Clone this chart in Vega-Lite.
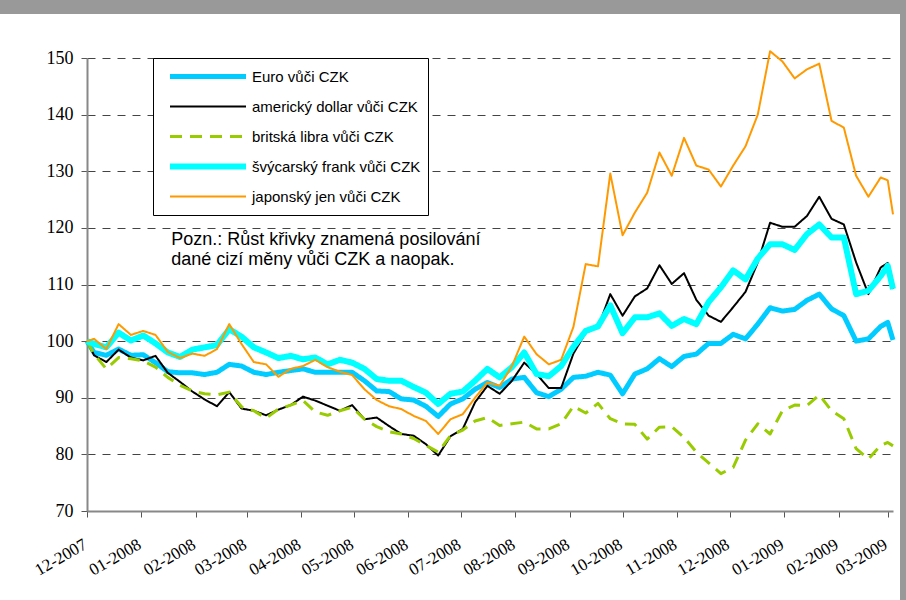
{
  "$schema": "https://vega.github.io/schema/vega-lite/v6.json",
  "width": 900,
  "height": 586,
  "autosize": {"type": "none"},
  "padding": {"left": 0, "top": 14, "right": 6, "bottom": 0},
  "background": "#999999",
  "config": {
    "view": {"fill": "white", "stroke": null},
    "font": "Liberation Sans"
  },
  "data": {
    "values": [
      {"date": "2007-12-01", "eur": 100, "usd": 100, "gbp": 100, "chf": 100, "jpy": 100},
      {"date": "2007-12-05", "eur": 98.0, "usd": 97.5, "gbp": 97.7, "chf": 99.5, "jpy": 100.4},
      {"date": "2007-12-12", "eur": 97.5, "usd": 96.3, "gbp": 95.1, "chf": 98.9, "jpy": 98.6},
      {"date": "2007-12-19", "eur": 98.6, "usd": 98.5, "gbp": 97.1, "chf": 101.5, "jpy": 103.0},
      {"date": "2007-12-26", "eur": 97.5, "usd": 97.1, "gbp": 96.9, "chf": 100.1, "jpy": 101.1},
      {"date": "2008-01-02", "eur": 97.6, "usd": 96.6, "gbp": 96.5, "chf": 101.0, "jpy": 101.8},
      {"date": "2008-01-09", "eur": 96.2, "usd": 97.4, "gbp": 95.4, "chf": 99.6, "jpy": 101.1},
      {"date": "2008-01-16", "eur": 94.6, "usd": 94.4, "gbp": 93.6, "chf": 98.0, "jpy": 98.1},
      {"date": "2008-01-23", "eur": 94.4, "usd": 92.8, "gbp": 92.2, "chf": 97.2, "jpy": 97.0},
      {"date": "2008-01-30", "eur": 94.4, "usd": 91.1, "gbp": 91.2, "chf": 98.5, "jpy": 97.8},
      {"date": "2008-02-06", "eur": 94.1, "usd": 89.7, "gbp": 90.7, "chf": 98.9, "jpy": 97.4},
      {"date": "2008-02-13", "eur": 94.5, "usd": 88.5, "gbp": 90.5, "chf": 99.3, "jpy": 98.6},
      {"date": "2008-02-20", "eur": 95.9, "usd": 91.0, "gbp": 91.0, "chf": 102.1, "jpy": 103.0},
      {"date": "2008-02-27", "eur": 95.6, "usd": 88.1, "gbp": 88.4, "chf": 100.8, "jpy": 99.5},
      {"date": "2008-03-05", "eur": 94.5, "usd": 87.7, "gbp": 87.7, "chf": 98.9, "jpy": 96.3},
      {"date": "2008-03-12", "eur": 94.1, "usd": 86.9, "gbp": 86.4, "chf": 98.0, "jpy": 95.9},
      {"date": "2008-03-19", "eur": 94.5, "usd": 87.9, "gbp": 88.0, "chf": 97.0, "jpy": 93.7},
      {"date": "2008-03-26", "eur": 94.8, "usd": 88.7, "gbp": 88.7, "chf": 97.4, "jpy": 95.1},
      {"date": "2008-04-02", "eur": 95.1, "usd": 90.2, "gbp": 89.5, "chf": 96.8, "jpy": 95.6},
      {"date": "2008-04-09", "eur": 94.5, "usd": 89.5, "gbp": 87.5, "chf": 97.1, "jpy": 96.7},
      {"date": "2008-04-16", "eur": 94.5, "usd": 88.6, "gbp": 86.9, "chf": 95.9, "jpy": 95.4},
      {"date": "2008-04-23", "eur": 94.5, "usd": 87.7, "gbp": 87.7, "chf": 96.7, "jpy": 94.6},
      {"date": "2008-04-30", "eur": 94.5, "usd": 88.7, "gbp": 88.3, "chf": 96.2, "jpy": 94.0},
      {"date": "2008-05-07", "eur": 93.0, "usd": 86.2, "gbp": 86.2, "chf": 95.1, "jpy": 91.5},
      {"date": "2008-05-14", "eur": 91.2, "usd": 86.5, "gbp": 84.9, "chf": 93.3, "jpy": 89.6},
      {"date": "2008-05-21", "eur": 91.1, "usd": 85.0, "gbp": 84.0, "chf": 93.0, "jpy": 88.5},
      {"date": "2008-05-28", "eur": 89.8, "usd": 83.6, "gbp": 83.6, "chf": 93.0, "jpy": 88.0},
      {"date": "2008-06-04", "eur": 89.6, "usd": 83.3, "gbp": 82.8, "chf": 91.9, "jpy": 86.8},
      {"date": "2008-06-11", "eur": 88.5, "usd": 81.8, "gbp": 81.6, "chf": 90.9, "jpy": 85.9},
      {"date": "2008-06-18", "eur": 86.7, "usd": 79.8, "gbp": 80.4, "chf": 88.9, "jpy": 83.6},
      {"date": "2008-06-25", "eur": 88.9, "usd": 83.2, "gbp": 83.3, "chf": 90.7, "jpy": 86.2},
      {"date": "2008-07-02", "eur": 89.8, "usd": 84.5, "gbp": 84.3, "chf": 91.1, "jpy": 87.1},
      {"date": "2008-07-09", "eur": 91.5, "usd": 89.2, "gbp": 85.9, "chf": 93.0, "jpy": 90.0},
      {"date": "2008-07-16", "eur": 92.7, "usd": 92.1, "gbp": 86.5, "chf": 95.1, "jpy": 92.7},
      {"date": "2008-07-23", "eur": 91.8, "usd": 90.7, "gbp": 85.1, "chf": 93.6, "jpy": 92.1},
      {"date": "2008-07-30", "eur": 93.3, "usd": 93.0, "gbp": 85.4, "chf": 95.4, "jpy": 95.6},
      {"date": "2008-08-06", "eur": 93.6, "usd": 96.2, "gbp": 85.7, "chf": 98.0, "jpy": 100.8},
      {"date": "2008-08-13", "eur": 90.9, "usd": 94.2, "gbp": 84.5, "chf": 94.2, "jpy": 97.7},
      {"date": "2008-08-20", "eur": 90.2, "usd": 91.7, "gbp": 84.5, "chf": 93.8, "jpy": 95.9},
      {"date": "2008-08-27", "eur": 91.5, "usd": 91.7, "gbp": 85.4, "chf": 95.6, "jpy": 96.7},
      {"date": "2008-09-03", "eur": 93.6, "usd": 97.8, "gbp": 88.5, "chf": 99.0, "jpy": 102.5},
      {"date": "2008-09-10", "eur": 93.8, "usd": 101.5, "gbp": 87.3, "chf": 101.8, "jpy": 113.6},
      {"date": "2008-09-17", "eur": 94.5, "usd": 102.4, "gbp": 89.0, "chf": 102.6, "jpy": 113.2},
      {"date": "2008-09-24", "eur": 94.0, "usd": 108.3, "gbp": 86.3, "chf": 106.3, "jpy": 129.6},
      {"date": "2008-10-01", "eur": 90.7, "usd": 104.5, "gbp": 85.4, "chf": 101.4, "jpy": 118.7},
      {"date": "2008-10-08", "eur": 94.2, "usd": 107.9, "gbp": 85.3, "chf": 104.2, "jpy": 122.7},
      {"date": "2008-10-15", "eur": 95.1, "usd": 109.3, "gbp": 82.7, "chf": 104.2, "jpy": 126.2},
      {"date": "2008-10-22", "eur": 96.9, "usd": 113.4, "gbp": 84.8, "chf": 104.9, "jpy": 133.3},
      {"date": "2008-10-29", "eur": 95.5, "usd": 110.1, "gbp": 84.9, "chf": 102.7, "jpy": 129.2},
      {"date": "2008-11-05", "eur": 97.3, "usd": 112.0, "gbp": 83.0, "chf": 103.9, "jpy": 135.9},
      {"date": "2008-11-12", "eur": 97.7, "usd": 107.3, "gbp": 80.4, "chf": 103.0, "jpy": 131.0},
      {"date": "2008-11-19", "eur": 99.6, "usd": 104.5, "gbp": 78.5, "chf": 106.9, "jpy": 130.3},
      {"date": "2008-11-26", "eur": 99.6, "usd": 103.4, "gbp": 76.6, "chf": 109.5, "jpy": 127.3},
      {"date": "2008-12-03", "eur": 101.2, "usd": 106.0, "gbp": 77.7, "chf": 112.5, "jpy": 131.0},
      {"date": "2008-12-10", "eur": 100.4, "usd": 108.7, "gbp": 82.5, "chf": 110.9, "jpy": 134.4},
      {"date": "2008-12-17", "eur": 103.0, "usd": 113.9, "gbp": 85.4, "chf": 114.6, "jpy": 140.0},
      {"date": "2008-12-24", "eur": 105.9, "usd": 120.9, "gbp": 83.6, "chf": 117.1, "jpy": 151.2},
      {"date": "2008-12-31", "eur": 105.3, "usd": 120.2, "gbp": 87.7, "chf": 117.1, "jpy": 149.4},
      {"date": "2009-01-07", "eur": 105.6, "usd": 120.2, "gbp": 88.7, "chf": 116.1, "jpy": 146.4},
      {"date": "2009-01-14", "eur": 107.2, "usd": 122.1, "gbp": 88.6, "chf": 118.9, "jpy": 148.0},
      {"date": "2009-01-21", "eur": 108.3, "usd": 125.5, "gbp": 90.5, "chf": 120.6, "jpy": 149.0},
      {"date": "2009-01-28", "eur": 105.7, "usd": 121.6, "gbp": 87.7, "chf": 118.3, "jpy": 138.9},
      {"date": "2009-02-04", "eur": 104.5, "usd": 120.6, "gbp": 86.3, "chf": 118.3, "jpy": 137.7},
      {"date": "2009-02-11", "eur": 100.0, "usd": 113.9, "gbp": 81.0, "chf": 108.3, "jpy": 129.2},
      {"date": "2009-02-18", "eur": 100.4, "usd": 108.3, "gbp": 79.2, "chf": 108.9, "jpy": 125.5},
      {"date": "2009-02-25", "eur": 102.6, "usd": 113.0, "gbp": 81.6, "chf": 111.5, "jpy": 128.9},
      {"date": "2009-03-01", "eur": 103.3, "usd": 113.8, "gbp": 82.1, "chf": 113.3, "jpy": 128.4},
      {"date": "2009-03-04", "eur": 100.2, "usd": 109.2, "gbp": 81.5, "chf": 109.2, "jpy": 122.4}
    ]
  },
  "layer": [
    {
      "transform": [{"fold": ["eur", "usd", "gbp", "chf", "jpy"], "as": ["series", "value"]}],
      "mark": {"type": "line", "strokeJoin": "round"},
      "encoding": {
        "x": {
          "field": "date",
          "type": "temporal",
          "scale": {
            "type": "utc",
            "domain": [{"year": 2007, "month": 12, "date": 1, "utc": true}, {"year": 2009, "month": 3, "date": 4, "utc": true}],
            "range": [87, 893]
          },
          "axis": {
            "title": null,
            "format": "%m-%Y",
            "tickCount": {"interval": "month", "step": 1},
            "labelAngle": -30,
            "labelAlign": "right",
            "labelBaseline": "top",
            "labelPadding": 19,
            "labelOffset": -6,
            "labelFont": "Liberation Sans Narrow",
            "labelFontSize": 17,
            "labelColor": "black",
            "labelOverlap": false,
            "labelBound": false,
            "labelFlush": false,
            "tickSize": 6,
            "tickColor": "#555555",
            "domainColor": "#888888",
            "domainWidth": 2,
            "grid": false,
            "offset": -89
          }
        },
        "y": {
          "field": "value",
          "type": "quantitative",
          "scale": {"domain": [70, 150], "range": [497, 44], "nice": false, "zero": false},
          "axis": {
            "title": null,
            "values": [70, 80, 90, 100, 110, 120, 130, 140, 150],
            "labelFont": "Liberation Sans Narrow",
            "labelFontSize": 18,
            "labelColor": "black",
            "labelPadding": 8,
            "tickSize": 6,
            "tickColor": "#555555",
            "domainColor": "#888888",
            "domainWidth": 2,
            "grid": true,
            "gridColor": "#444444",
            "gridDash": [8, 7],
            "gridWidth": 1,
            "offset": -87
          }
        },
        "color": {
          "field": "series",
          "type": "nominal",
          "scale": {"domain": ["eur", "usd", "gbp", "chf", "jpy"], "range": ["#00ccff", "#000000", "#99cc00", "#00ffff", "#ff9900"]},
          "legend": {
            "title": null,
            "orient": "none",
            "legendX": 153,
            "legendY": 44,
            "fillColor": "white",
            "strokeColor": "black",
            "padding": 7,
            "cornerRadius": 0,
            "symbolType": "stroke",
            "symbolSize": 5776,
            "symbolOffset": 7,
            "clipHeight": 23,
            "labelFont": "Liberation Sans",
            "labelFontSize": 15,
            "labelColor": "black",
            "labelOffset": 3,
            "labelLimit": 300,
            "rowPadding": 7,
            "labelExpr": "datum.label == 'eur' ? 'Euro vůči CZK' : datum.label == 'usd' ? 'americký dollar vůči CZK' : datum.label == 'gbp' ? 'britská libra vůči CZK' : datum.label == 'chf' ? 'švýcarský frank vůči CZK' : 'japonský jen vůči CZK'"
          }
        },
        "strokeDash": {
          "field": "series",
          "type": "nominal",
          "scale": {"domain": ["eur", "usd", "gbp", "chf", "jpy"], "range": [[1, 0], [1, 0], [12, 8], [1, 0], [1, 0]]}
        },
        "strokeWidth": {
          "field": "series",
          "type": "nominal",
          "scale": {"type": "ordinal", "domain": ["eur", "usd", "gbp", "chf", "jpy"], "range": [5, 2, 3, 6, 2]}
        }
      }
    },
    {
      "data": {"values": [{}]},
      "mark": {
        "type": "text",
        "text": ["Pozn.: Růst křivky znamená posilování", "dané cizí měny vůči CZK a naopak."],
        "align": "left",
        "baseline": "top",
        "font": "Liberation Sans",
        "fontSize": 18,
        "lineHeight": 20,
        "color": "black"
      },
      "encoding": {
        "x": {"datum": {"year": 2008, "month": 1, "date": 18, "utc": true}, "type": "temporal"},
        "y": {"datum": 119.4, "type": "quantitative"}
      }
    }
  ]
}
